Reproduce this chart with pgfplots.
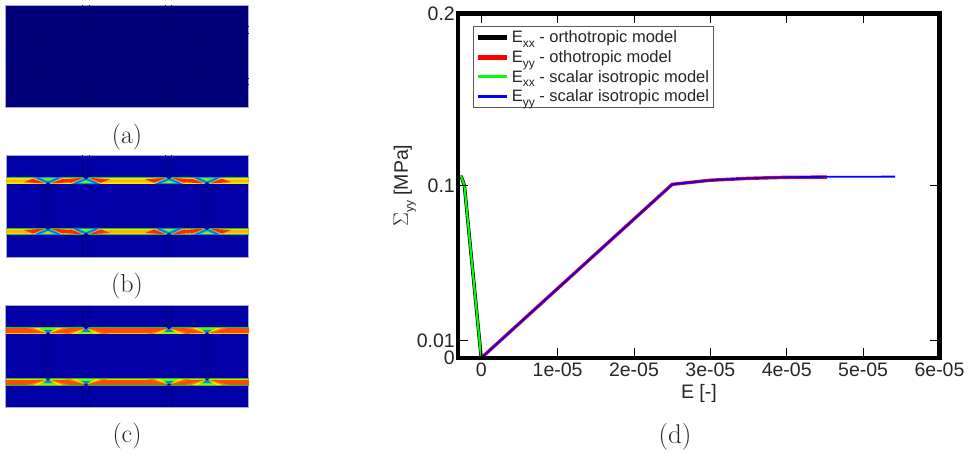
\documentclass[border=0pt]{standalone}
\usepackage{fontspec}
\setmainfont{Liberation Sans}
\newfontfamily\lmfont{Latin Modern Roman}
\usepackage{pgfplots}
\usepackage{pgfplotstable}
\pgfplotsset{compat=1.18}
\definecolor{pblue}{HTML}{0000A6}
\definecolor{pdark}{HTML}{000078}
\definecolor{edge}{HTML}{A8A8D0}
\newcommand\sub[1]{\raisebox{-.55ex}{\fontsize{12}{12}\selectfont #1}}
% lens outlines, local coordinates: notch at (0,0), far edge at y=7
\pgfplotstableread{
x y
-15 7
15 7
0 0
}\lensA
\pgfplotstableread{
x y
-12.5 6.6
12.5 6.6
0 1.8
}\lensB
\pgfplotstableread{
x y
-8.5 6.2
8.5 6.2
0 2.6
}\lensC
\pgfplotstableread{
x y
-5.5 5.8
5.5 5.8
0 4
}\lensD
\pgfplotstableread{
x y
-2.6 0
2.6 0
0 2.2
}\notch
\pgfplotstableread{
x y
-24 2
-3 0.7
-15 5.6
}\wedgeL
\pgfplotstableread{
x y
24 2
3 0.7
15 5.6
}\wedgeR
\pgfplotstableread{
x y
-22 6.6
22 6.6
0 1
}\clensA
\pgfplotstableread{
x y
-15 6.6
15 6.6
0 1
}\clensB
\pgfplotstableread{
x y
-9 6.2
9 6.2
0 1
}\clensC
\pgfplotstableread{
x y
-4.5 4.6
4.5 4.6
0 0.4
}\clensD
\newcommand\tri[5]{\addplot[fill=#1,draw=none,forget plot] table[x expr=\thisrow{x}+#3,y expr=#4+#5*\thisrow{y}] {#2} --cycle;}
\newcommand\rect[5]{\addplot[fill=#1,draw=#2,line width=.8pt,forget plot] coordinates {(#3,#5)(#4,#5)(#4,#3)(#3,#3)} --cycle;}
\newcommand\strip[4]{\pgfmathsetmacro\ya{#1}\pgfmathsetmacro\yb{#2}\addplot[fill=#3,draw=none,forget plot] coordinates {(#4,\ya)(248.5,\ya)(248.5,\yb)(#4,\yb)} --cycle;}
\newcommand\panel[4]{\addplot[fill=#3,draw=edge,line width=.8pt,forget plot] coordinates {(#4,#1)(248.5,#1)(248.5,#2)(#4,#2)} --cycle;}
\newcommand\vl[4]{\addplot[color=#4,line width=.5pt,forget plot] coordinates {(#1,#2)(#1,#3)};}
\newcommand\hl[4]{\addplot[color=#4,line width=.5pt,forget plot] coordinates {(#2,#1)(#3,#1)};}
\newcommand\bandB[1]{%
 \strip{#1}{#1+7}{green!60!cyan!80!black}{6}
 \strip{#1+.6}{#1+6.4}{yellow!90!green}{6}
 \strip{#1+1.4}{#1+5.6}{yellow!75!orange}{6}
 \strip{#1+2.4}{#1+4.8}{orange!60!yellow}{6}}
\newcommand\bandC[1]{%
 \strip{#1}{#1+7.2}{green!60!cyan!80!black}{6}
 \strip{#1+.5}{#1+6.7}{yellow!60!orange}{6}
 \strip{#1+1.1}{#1+6.1}{orange!60!red}{6}}
\newcommand\nodeB[3]{% xc, y of notch edge, direction
 \tri{red!70!orange}{\wedgeL}{#1}{#2}{#3}
 \tri{red!70!orange}{\wedgeR}{#1}{#2}{#3}
 \tri{cyan!80!blue}{\lensA}{#1}{#2}{#3}
 \tri{blue!60!cyan}{\lensB}{#1}{#2}{#3}
 \tri{green!70!cyan}{\lensC}{#1}{#2}{#3}
 \tri{yellow!70!green}{\lensD}{#1}{#2}{#3}
 \tri{pblue}{\notch}{#1}{#2}{#3}}
\newcommand\nodeC[3]{%
 \tri{orange}{\clensA}{#1}{#2}{#3}
 \tri{yellow!85!orange}{\clensB}{#1}{#2}{#3}
 \tri{green!65!yellow}{\clensC}{#1}{#2}{#3}
 \tri{cyan!70!blue}{\clensD}{#1}{#2}{#3}
 \tri{pblue}{\notch}{#1}{#2}{#3}}
\begin{document}
\begin{tikzpicture}
\useasboundingbox (0,0) rectangle (975pt,457pt);
% ---- panels (a)-(c), in pixel coordinates
\begin{axis}[at={(0pt,0pt)},anchor=south west,width=260pt,height=457pt,scale only axis,
  xmin=0,xmax=260,ymin=0,ymax=457,y dir=reverse,hide axis,clip=false]
 \panel{5}{107.3}{pdark}{5.7}
 \foreach \q in {}{}
 \hl{26.7}{5.7}{82.7}{black!10!pdark!85!black}
 \hl{26.7}{89.3}{165.7}{pdark!85!black}
 \hl{26.7}{171.7}{248.5}{pdark!85!black}
 \hl{33.5}{5.7}{44.5}{pdark!85!black}
 \hl{33.5}{51}{204}{pdark!85!black}
 \hl{33.5}{210}{248.5}{pdark!85!black}
 \hl{78}{5.7}{44.5}{pdark!85!black}
 \hl{78}{51}{204}{pdark!85!black}
 \hl{78}{210}{248.5}{pdark!85!black}
 \hl{84.5}{5.7}{82.7}{pdark!85!black}
 \hl{84.5}{89.3}{165.7}{pdark!85!black}
 \hl{84.5}{171.7}{248.5}{pdark!85!black}
 \vl{82.7}{5}{26.7}{pdark!85!black}\vl{89.3}{5}{26.7}{pdark!85!black}
 \vl{165.7}{5}{26.7}{pdark!85!black}\vl{171.7}{5}{26.7}{pdark!85!black}
 \vl{82.7}{84.5}{107}{pdark!85!black}\vl{89.3}{84.5}{107}{pdark!85!black}
 \vl{165.7}{84.5}{107}{pdark!85!black}\vl{171.7}{84.5}{107}{pdark!85!black}
 \vl{44.5}{33.5}{78}{pdark!85!black}\vl{51}{33.5}{78}{pdark!85!black}
 \vl{204}{33.5}{78}{pdark!85!black}\vl{210}{33.5}{78}{pdark!85!black}
 % panel (b)
 \panel{155.3}{257}{pblue}{6.7}
 \vl{82.7}{155.5}{177}{pdark}\vl{89.3}{155.5}{177}{pdark}
 \vl{165.7}{155.5}{177}{pdark}\vl{171.7}{155.5}{177}{pdark}
 \vl{44.7}{184}{228}{pdark}\vl{51.7}{184}{228}{pdark}
 \vl{204}{184}{228}{pdark}\vl{210}{184}{228}{pdark}
 \vl{82.7}{235}{257}{pdark}\vl{89.3}{235}{257}{pdark}
 \vl{165.7}{235}{257}{pdark}\vl{171.7}{235}{257}{pdark}
 \bandB{177.2}
 \bandB{228}
 \nodeB{48}{184.2}{-1}\nodeB{86}{177.2}{1}\nodeB{169}{177.2}{1}\nodeB{207}{184.2}{-1}
 \nodeB{48}{228}{1}\nodeB{86}{235}{-1}\nodeB{169}{235}{-1}\nodeB{207}{228}{1}
 % panel (c)
 \panel{305}{407.3}{pblue}{5.7}
 \vl{82.7}{305.5}{327}{pdark}\vl{89.3}{305.5}{327}{pdark}
 \vl{165.7}{305.5}{327}{pdark}\vl{171.7}{305.5}{327}{pdark}
 \vl{44.7}{334}{378}{pdark}\vl{51.7}{334}{378}{pdark}
 \vl{204}{334}{378}{pdark}\vl{210}{334}{378}{pdark}
 \vl{82.7}{386}{407}{pdark}\vl{89.3}{386}{407}{pdark}
 \vl{165.7}{386}{407}{pdark}\vl{171.7}{386}{407}{pdark}
 \bandC{327.2}
 \bandC{378.4}
 \nodeC{48}{334.4}{-1}\nodeC{86}{327.2}{1}\nodeC{169}{327.2}{1}\nodeC{207}{334.4}{-1}
 \nodeC{48}{378.4}{1}\nodeC{86}{385.6}{-1}\nodeC{169}{385.6}{-1}\nodeC{207}{378.4}{1}
\end{axis}
% ---- panel (d)
\begin{axis}[at={(458.3pt,99pt)},anchor=south west,width=481.2pt,height=344.5pt,scale only axis,
  xmin=-3e-6,xmax=6e-5,ymin=0,ymax=0.2,
  axis line style={line width=4.2pt,line cap=rect},
  tick style={black,line width=.8pt},
  major tick length=10pt,
  tick align=inside,
  xtick={0,1e-5,2e-5,3e-5,4e-5,5e-5,6e-5},
  xticklabels={0,1e-05,2e-05,3e-05,4e-05,5e-05,6e-05},
  ytick={0,0.01,0.1,0.2},
  yticklabels={0,0.01,0.1,0.2},
  scaled ticks=false,
  tick label style={font=\fontsize{19.5}{20}\selectfont,text=black!85},
  xticklabel style={yshift=-1pt},
  yticklabel style={xshift=0pt},
  xlabel={E [-]},ylabel={\raisebox{0pt}{$\Sigma$}\sub{yy} [MPa]},
  label style={font=\fontsize{19.5}{20}\selectfont,text=black!85},
  xlabel style={yshift=-1pt},
  ylabel style={yshift=-6pt},
  legend style={at={(axis cs:-1.02e-6,0.1925)},anchor=north west,draw=black!65,line width=.8pt,
    font=\fontsize{16.5}{17}\selectfont,text=black!85,inner sep=2pt,
    /tikz/every even column/.append style={column sep=5pt},row sep=2.2pt},
  legend cell align=left,
  legend image code/.code={\draw[#1] (0pt,0pt) -- (29pt,0pt);},
  axis on top,
  ]
 \addlegendimage{black,line width=5pt}
 \addlegendentry{E\sub{xx} - orthotropic model}
 \addlegendimage{red,line width=5pt}
 \addlegendentry{E\sub{yy} - othotropic model}
 \addlegendimage{green,line width=3pt}
 \addlegendentry{E\sub{xx} - scalar isotropic model}
 \addlegendimage{blue,line width=3pt}
 \addlegendentry{E\sub{yy} - scalar isotropic model}
 \addplot[black,line width=3.4pt,forget plot] coordinates {(0,0)(-2.2e-6,0.1)(-2.5e-6,0.104)(-2.7e-6,0.106)};
 \addplot[red,line width=3.4pt,forget plot] coordinates {(0,0)(2.5e-5,0.1008)(3e-5,0.1032)(3.5e-5,0.1043)(4e-5,0.1049)(4.525e-5,0.105)};
 \addplot[green,line width=2.2pt,forget plot] coordinates {(0,0)(-2.2e-6,0.1)(-2.5e-6,0.104)(-2.7e-6,0.106)};
 \addplot[blue,line width=1.8pt,forget plot] coordinates {(0,0)(2.5e-5,0.1008)(3e-5,0.1032)(3.5e-5,0.1043)(4e-5,0.1049)(4.525e-5,0.1052)(5.42e-5,0.1053)};
\end{axis}
\node[font=\lmfont\fontsize{26}{30}\selectfont,text=black!85] at (127pt,320pt) {(a)};
\node[font=\lmfont\fontsize{26}{30}\selectfont,text=black!85] at (127pt,171pt) {(b)};
\node[font=\lmfont\fontsize{26}{30}\selectfont,text=black!85] at (127pt,21pt) {(c)};
\node[font=\lmfont\fontsize{27}{30}\selectfont,text=black!85] at (675pt,20pt) {(d)};
\end{tikzpicture}
\end{document}
